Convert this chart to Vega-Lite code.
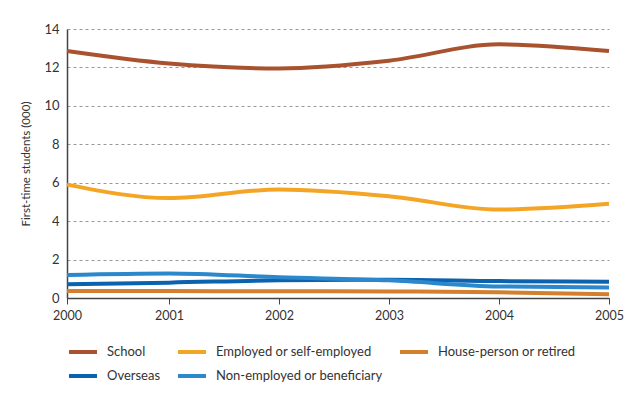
{
  "$schema": "https://vega.github.io/schema/vega-lite/v6.json",
  "width": 542,
  "height": 269,
  "autosize": {"type": "none"},
  "padding": {"left": 67, "top": 29, "right": 23, "bottom": 98},
  "background": "white",
  "config": {
    "view": {"stroke": null},
    "font": "Lato",
    "axis": {"labelFont": "Lato", "titleFont": "Lato", "labelColor": "#333", "titleColor": "#333", "titleFontWeight": "normal"},
    "legend": {"labelFont": "Lato"}
  },
  "data": {
    "values": [
      {"year": 2000, "series": "School", "value": 12.85},
      {"year": 2001, "series": "School", "value": 12.2},
      {"year": 2002, "series": "School", "value": 11.95},
      {"year": 2003, "series": "School", "value": 12.35},
      {"year": 2004, "series": "School", "value": 13.2},
      {"year": 2005, "series": "School", "value": 12.85},
      {"year": 2000, "series": "Employed or self-employed", "value": 5.9},
      {"year": 2001, "series": "Employed or self-employed", "value": 5.2},
      {"year": 2002, "series": "Employed or self-employed", "value": 5.65},
      {"year": 2003, "series": "Employed or self-employed", "value": 5.3},
      {"year": 2004, "series": "Employed or self-employed", "value": 4.6},
      {"year": 2005, "series": "Employed or self-employed", "value": 4.9},
      {"year": 2000, "series": "House-person or retired", "value": 0.36},
      {"year": 2001, "series": "House-person or retired", "value": 0.36},
      {"year": 2002, "series": "House-person or retired", "value": 0.35},
      {"year": 2003, "series": "House-person or retired", "value": 0.34},
      {"year": 2004, "series": "House-person or retired", "value": 0.3},
      {"year": 2005, "series": "House-person or retired", "value": 0.2},
      {"year": 2000, "series": "Overseas", "value": 0.72},
      {"year": 2001, "series": "Overseas", "value": 0.8},
      {"year": 2002, "series": "Overseas", "value": 0.92},
      {"year": 2003, "series": "Overseas", "value": 0.95},
      {"year": 2004, "series": "Overseas", "value": 0.88},
      {"year": 2005, "series": "Overseas", "value": 0.85},
      {"year": 2000, "series": "Non-employed or beneficiary", "value": 1.2},
      {"year": 2001, "series": "Non-employed or beneficiary", "value": 1.28},
      {"year": 2002, "series": "Non-employed or beneficiary", "value": 1.08},
      {"year": 2003, "series": "Non-employed or beneficiary", "value": 0.92},
      {"year": 2004, "series": "Non-employed or beneficiary", "value": 0.6},
      {"year": 2005, "series": "Non-employed or beneficiary", "value": 0.55}
    ]
  },
  "mark": {"type": "line", "interpolate": "monotone", "strokeWidth": 4},
  "encoding": {
    "x": {
      "field": "year", "type": "quantitative",
      "scale": {"domain": [2000, 2001, 2005], "range": [0, 102, 542], "nice": false},
      "axis": {"title": null, "format": "d", "values": [2000, 2001, 2002, 2003, 2004, 2005], "grid": false, "labelFlush": false, "domainColor": "#444", "domainWidth": 1.5, "tickColor": "#444", "tickSize": 6, "labelFontSize": 12.5, "labelPadding": 5}
    },
    "y": {
      "field": "value", "type": "quantitative",
      "scale": {"domain": [0, 14], "nice": false},
      "axis": {"title": "First-time students (000)", "values": [0, 2, 4, 6, 8, 10, 12, 14], "ticks": false, "labelFlush": false, "labelPadding": 8, "labelFontSize": 13, "titleFontSize": 11.5, "titlePadding": 12, "domainColor": "#444", "domainWidth": 1.5, "gridColor": "#999", "gridDash": [3, 3], "gridWidth": 1}
    },
    "color": {
      "field": "series", "type": "nominal",
      "scale": {
        "domain": ["School", "Employed or self-employed", "House-person or retired", "Overseas", "Non-employed or beneficiary"],
        "range": ["#A9522F", "#F4A525", "#D47F2E", "#0B62AE", "#2B88CC"]
      },
      "legend": {
        "title": null, "orient": "none", "legendX": 0, "legendY": 307, "direction": "horizontal", "columns": 3,
        "symbolType": "stroke", "symbolSize": 784, "symbolStrokeWidth": 4, "labelFontSize": 13, "labelColor": "#333", "labelOffset": 8, "labelLimit": 300,
        "columnPadding": 9, "rowPadding": -5, "padding": 0
      }
    }
  }
}
